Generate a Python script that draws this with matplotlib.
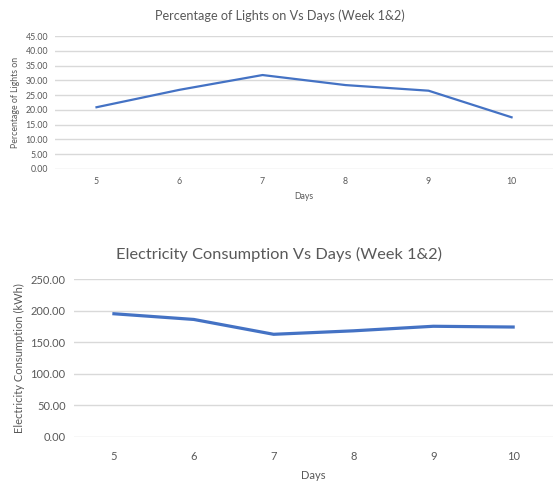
import matplotlib.pyplot as plt

plt.rcParams['font.family'] = ['Lato', 'DejaVu Sans']

days = [5, 6, 7, 8, 9, 10]
lights_pct = [20.9, 26.8, 31.8, 28.4, 26.5, 17.5]
consumption = [195.0, 186.0, 162.5, 168.0, 175.2, 174.0]

pct_ticks = [0, 5, 10, 15, 20, 25, 30, 35, 40, 45]
kwh_ticks = [0, 50, 100, 150, 200, 250]

blue = '#4472C4'
grid = '#D9D9D9'
txt = '#595959'

fig = plt.figure(figsize=(5.59, 4.87), dpi=100)


def style(ax, yticks, fs):
    for s in ax.spines.values():
        s.set_visible(False)
    ax.set_yticks(yticks)
    ax.set_yticklabels(['%.2f' % v for v in yticks], fontsize=fs, color=txt)
    ax.set_xticks(days)
    ax.set_xticklabels([str(d) for d in days], fontsize=fs, color=txt)
    ax.tick_params(length=0)
    ax.grid(axis='y', color=grid, linewidth=1)
    ax.set_axisbelow(True)
    ax.set_xlim(4.5, 10.5)
    ax.set_ylim(yticks[0], yticks[-1])


# top chart
ax1 = fig.add_axes([0.0984, 0.653, 0.891, 0.273])
ax1.plot(days, lights_pct, color=blue, linewidth=1.6)
style(ax1, pct_ticks, 6.3)
ax1.tick_params(axis='x', pad=6)
ax1.tick_params(axis='y', pad=5)
fig.text(0.5, 0.967, 'Percentage of Lights on Vs Days (Week 1&2)', fontsize=9.1,
         color=txt, ha='center', va='center')
ax1.set_xlabel('Days', fontsize=6.3, color=txt, labelpad=4)
ax1.set_ylabel('Percentage of Lights on', fontsize=6.3, color=txt, labelpad=4)

# bottom chart
ax2 = fig.add_axes([0.1324, 0.1027, 0.857, 0.3244])
ax2.plot(days, consumption, color=blue, linewidth=2.3)
style(ax2, kwh_ticks, 8)
ax2.tick_params(axis='x', pad=10)
ax2.tick_params(axis='y', pad=6)
fig.text(0.5, 0.478, 'Electricity Consumption Vs Days (Week 1&2)', fontsize=11.8,
         color=txt, ha='center', va='center')
ax2.set_xlabel('Days', fontsize=8, color=txt, labelpad=6)
ax2.set_ylabel('Electricity Consumption (kWh)', fontsize=8, color=txt, labelpad=4)

fig.savefig('out.png', dpi=100)
